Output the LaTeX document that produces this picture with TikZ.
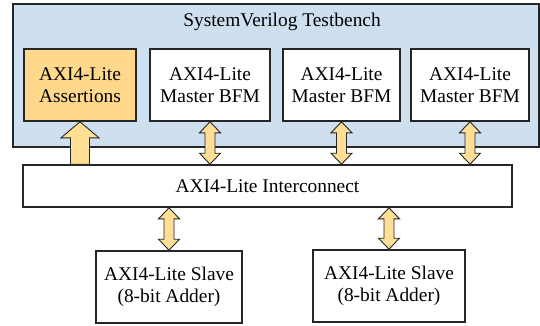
\documentclass[tikz,border=0pt]{standalone}
\usepackage{fontspec}
\setmainfont{Liberation Serif}
\usetikzlibrary{calc}
\definecolor{tbblue}{RGB}{206,223,240}
\definecolor{assorange}{RGB}{255,216,140}
\definecolor{arrowfill}{RGB}{255,222,150}
\tikzstyle{block} = [rectangle, minimum height=36pt, text centered, align=center, draw=black!85, line width=0.8pt, fill=white, inner sep=0pt]
\tikzstyle{bench} = [rectangle, minimum width=263pt, minimum height=71.5pt, draw=black!85, line width=0.8pt, fill=tbblue]
\tikzstyle{fatarrow} = [draw=black!85, line width=0.45pt, fill=arrowfill, line join=miter]

% double headed fat arrow between two points on one vertical
\newcommand{\biarrow}[2]{%
  \draw[fatarrow] let \p1=#1, \p2=#2 in
    (\x1,\y1) -- (\x1+5.25pt,\y1-5.5pt) -- (\x1+2.5pt,\y1-5.5pt) -- (\x1+2.5pt,\y2+5.5pt)
    -- (\x1+5.25pt,\y2+5.5pt) -- (\x1,\y2) -- (\x1-5.25pt,\y2+5.5pt) -- (\x1-2.5pt,\y2+5.5pt)
    -- (\x1-2.5pt,\y1-5.5pt) -- (\x1-5.25pt,\y1-5.5pt) -- cycle;}

\begin{document}
\begin{tikzpicture}[x=0.5pt, y=-0.5pt, font=\fontsize{9.7}{11}\selectfont]
\useasboundingbox (0,0) rectangle (540,326);

% Testbench
\node (TB) [bench] at (276,75.5) {};
\node (T) at (282,22) {SystemVerilog Testbench};

\node (A) [block, minimum width=56pt, fill=assorange] at (80,85) {AXI4-Lite\\Assertions};
\node (M1) [block, minimum width=60pt] at (210,85) {AXI4-Lite\\Master BFM};
\node (M2) [block, minimum width=58.5pt] at (341.5,85) {AXI4-Lite\\Master BFM};
\node (M3) [block, minimum width=59pt] at (470,85) {AXI4-Lite\\Master BFM};

% Interconnect and slaves
\node (IC) [block, minimum width=244.5pt, minimum height=21pt] at (267.5,186) {AXI4-Lite Interconnect};
\node (S1) [block, minimum width=73pt] at (169,287) {AXI4-Lite Slave\\(8-bit Adder)};
\node (S2) [block, minimum width=76pt] at (389,286) {AXI4-Lite Slave\\(8-bit Adder)};

% Connecting arrows
\draw[fatarrow] let \p1=(A.south), \p2=(A.south |- IC.north) in
  (\x1,\y1) -- (\x1+9.5pt,\y1-8pt) -- (\x1+4.75pt,\y1-8pt) -- (\x1+4.75pt,\y2)
  -- (\x1-4.75pt,\y2) -- (\x1-4.75pt,\y1-8pt) -- (\x1-9.5pt,\y1-8pt) -- cycle;
\biarrow{(M1.south)}{(M1.south |- IC.north)}
\biarrow{(M2.south)}{(M2.south |- IC.north)}
\biarrow{(M3.south)}{(M3.south |- IC.north)}
\biarrow{(S1.north |- IC.south)}{(S1.north)}
\biarrow{(S2.north |- IC.south)}{(S2.north)}

\end{tikzpicture}
\end{document}
